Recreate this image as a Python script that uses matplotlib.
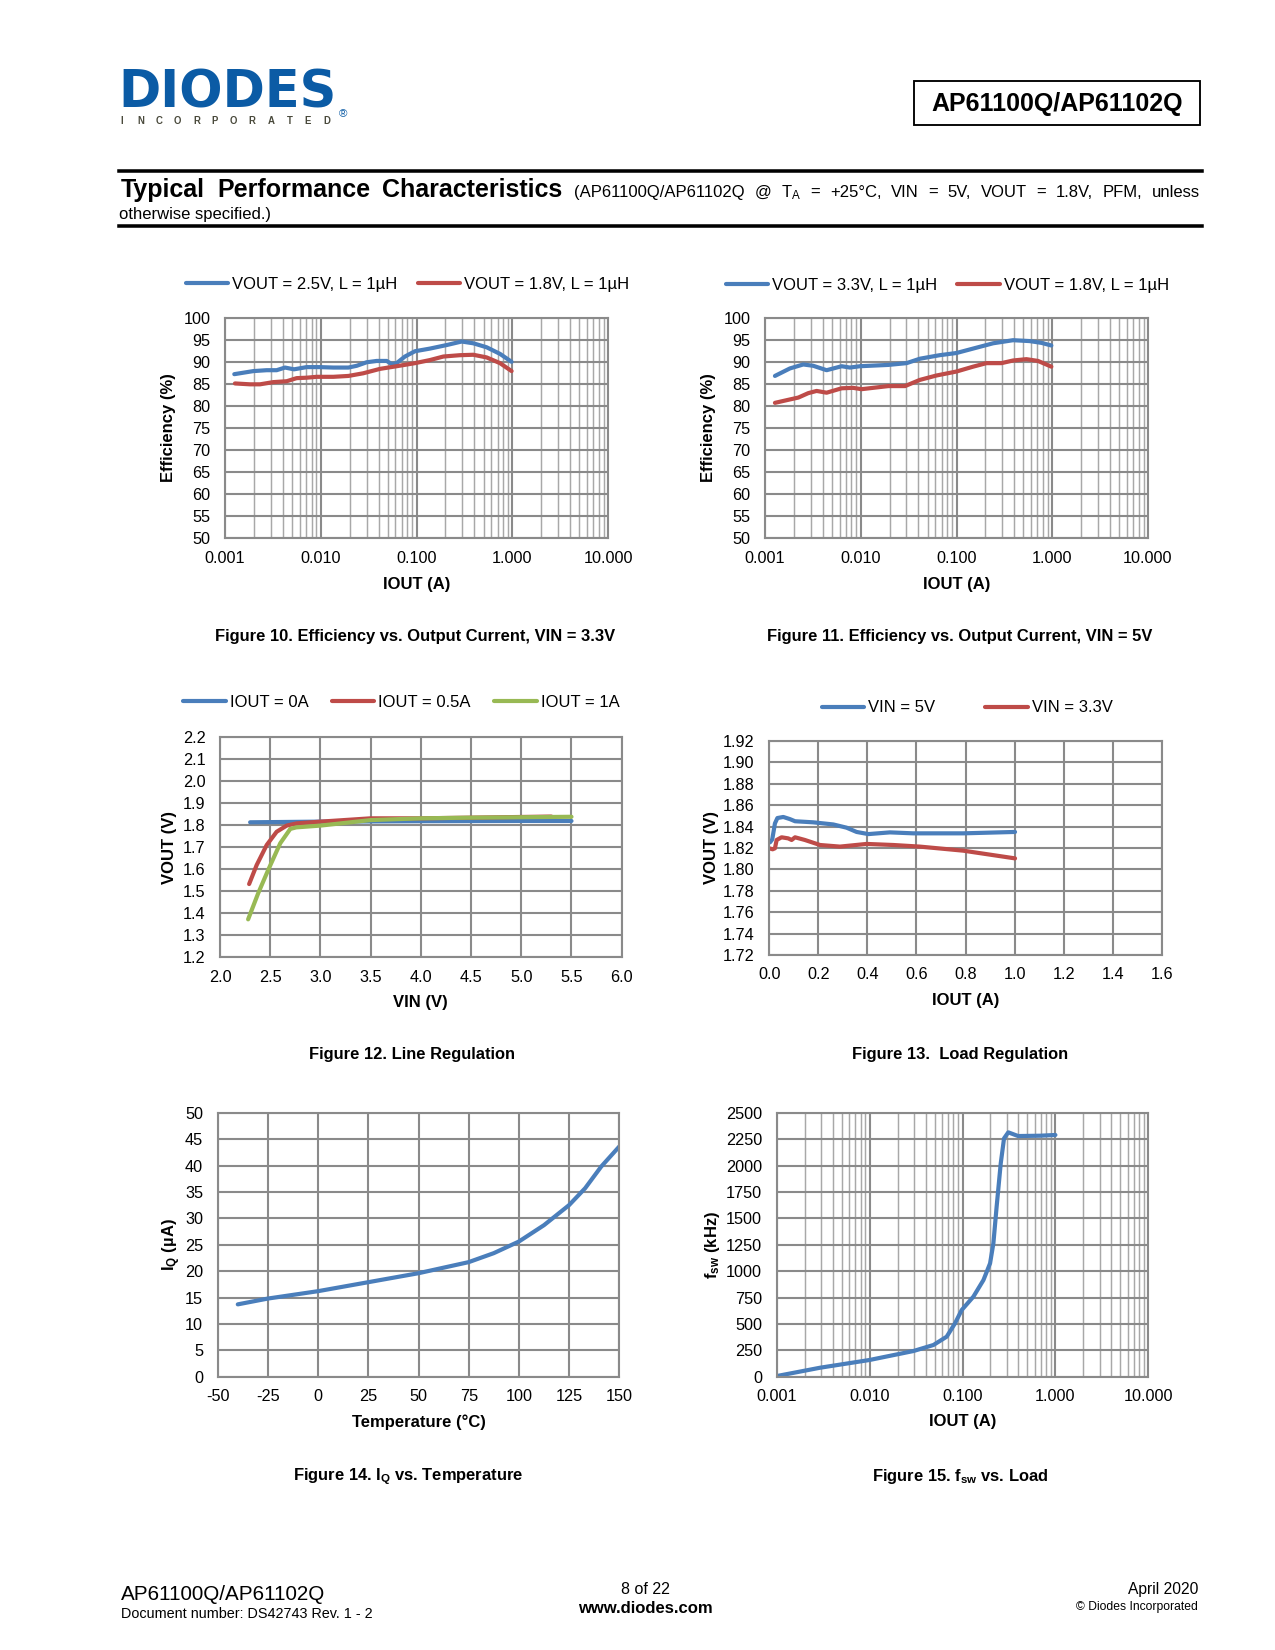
import matplotlib
matplotlib.use("Agg")
import matplotlib.pyplot as plt
from matplotlib.lines import Line2D
from matplotlib.patches import Rectangle
from matplotlib.ticker import FixedLocator, LogLocator, NullFormatter, FixedFormatter

plt.rcParams['font.family'] = ['Liberation Sans', 'DejaVu Sans']
plt.rcParams['mathtext.fontset'] = 'custom'
plt.rcParams['mathtext.rm'] = 'Liberation Sans'
plt.rcParams['mathtext.bf'] = 'Liberation Sans:bold'
plt.rcParams['mathtext.it'] = 'Liberation Sans:italic'
plt.rcParams['axes.unicode_minus'] = False

# ---------------- data ----------------
# Figure 10: efficiency vs IOUT, VIN = 3.3V
eff33_iout_25 = [0.00125, 0.00198, 0.00272, 0.00346, 0.00423, 0.00525, 0.00711, 0.0098, 0.0135, 0.0194,
                 0.0237, 0.0301, 0.0383, 0.0487, 0.0548, 0.0618, 0.0755, 0.0961, 0.1377, 0.2056,
                 0.295, 0.390, 0.537, 0.741, 0.979]
eff33_vout25 = [87.2, 87.9, 88.1, 88.1, 88.7, 88.3, 88.8, 88.8, 88.7, 88.7,
                89.1, 89.9, 90.2, 90.2, 89.5, 89.7, 91.2, 92.4, 93.0, 93.8,
                94.6, 94.2, 93.3, 91.8, 90.0]
eff33_iout_18 = [0.00127, 0.00182, 0.00232, 0.00319, 0.0044, 0.00559, 0.00711, 0.00904, 0.0135, 0.0194,
                 0.0277, 0.0414, 0.0618, 0.0961, 0.1377, 0.190, 0.282, 0.390, 0.537, 0.741, 0.979]
eff33_vout18 = [85.1, 84.9, 84.9, 85.4, 85.6, 86.3, 86.4, 86.6, 86.6, 86.8,
                87.4, 88.4, 89.0, 89.7, 90.4, 91.2, 91.5, 91.6, 91.0, 89.7, 87.9]

# Figure 11: efficiency vs IOUT, VIN = 5V
eff5_iout_33 = [0.00127, 0.00182, 0.00251, 0.00319, 0.0044, 0.00632, 0.0077, 0.0098, 0.0194, 0.0301,
                0.0414, 0.0667, 0.100, 0.149, 0.241, 0.390, 0.58, 0.77, 0.979]
eff5_vout33 = [86.8, 88.5, 89.4, 89.1, 88.1, 89.0, 88.7, 89.0, 89.3, 89.7,
               90.7, 91.5, 92.0, 93.0, 94.2, 94.9, 94.7, 94.3, 93.7]
eff5_iout_18 = [0.00127, 0.00168, 0.00223, 0.00283, 0.00346, 0.0044, 0.00632, 0.0083, 0.0102, 0.0194,
                0.029, 0.0414, 0.0618, 0.100, 0.149, 0.2056, 0.295, 0.390, 0.537, 0.71, 0.979]
eff5_vout18 = [80.7, 81.3, 81.9, 82.9, 83.4, 83.0, 84.0, 84.1, 83.8, 84.5,
               84.5, 85.9, 86.9, 87.8, 88.9, 89.7, 89.7, 90.3, 90.6, 90.2, 88.9]

# Figure 12: line regulation
line_vin_0a = [2.3, 3.0, 4.0, 5.0, 5.5]
line_vout_0a = [1.812, 1.815, 1.817, 1.818, 1.818]
line_vin_05a = [2.29, 2.365, 2.465, 2.564, 2.664, 2.763, 3.0, 3.5, 4.0, 4.5, 5.3]
line_vout_05a = [1.532, 1.618, 1.709, 1.769, 1.797, 1.807, 1.815, 1.830, 1.830, 1.833, 1.838]
line_vin_1a = [2.28, 2.38, 2.48, 2.60, 2.70, 2.76, 3.0, 3.5, 4.0, 4.5, 5.5]
line_vout_1a = [1.372, 1.490, 1.596, 1.717, 1.782, 1.789, 1.797, 1.822, 1.830, 1.833, 1.837]

# Figure 13: load regulation
load_iout_5v = [0.003, 0.012, 0.023, 0.033, 0.057, 0.084, 0.105, 0.179, 0.261, 0.315,
                0.356, 0.404, 0.492, 0.587, 0.791, 1.002]
load_vout_5v = [1.8253, 1.828, 1.843, 1.848, 1.849, 1.847, 1.845, 1.844, 1.842, 1.839,
                1.835, 1.833, 1.8346, 1.8337, 1.8337, 1.835]
load_iout_33v = [0.0, 0.0136, 0.023, 0.030, 0.050, 0.077, 0.091, 0.105, 0.145, 0.207,
                 0.288, 0.397, 0.506, 0.614, 0.791, 1.002]
load_vout_33v = [1.8197, 1.8188, 1.8197, 1.8275, 1.830, 1.829, 1.8275, 1.830, 1.8275, 1.8228,
                 1.8213, 1.8238, 1.8228, 1.8213, 1.8175, 1.8103]

# Figure 14: IQ vs temperature
temp_c = [-40, -25, 0, 25, 50, 75, 87.5, 100, 112.5, 125, 133, 141, 150]
iq_ua = [13.7, 14.8, 16.2, 17.9, 19.6, 21.7, 23.4, 25.6, 28.7, 32.5, 35.7, 39.8, 43.6]

# Figure 15: fsw vs load
fsw_iout = [0.001, 0.00293, 0.00995, 0.0296, 0.0486, 0.0676, 0.083, 0.098, 0.131, 0.168,
            0.198, 0.215, 0.233, 0.258, 0.280, 0.311, 0.397, 0.683, 1.0]
fsw_khz = [6, 85, 158, 243, 300, 379, 505, 631, 758, 915,
           1073, 1263, 1610, 2020, 2257, 2314, 2279, 2282, 2289]

# tick labels
log_ticks = [0.001, 0.01, 0.1, 1, 10]
log_tick_labels = ["0.001", "0.010", "0.100", "1.000", "10.000"]
eff_ticks = [50, 55, 60, 65, 70, 75, 80, 85, 90, 95, 100]
line_xticks = [2.0, 2.5, 3.0, 3.5, 4.0, 4.5, 5.0, 5.5, 6.0]
line_yticks = [1.2, 1.3, 1.4, 1.5, 1.6, 1.7, 1.8, 1.9, 2.0, 2.1, 2.2]
load_xticks = [0.0, 0.2, 0.4, 0.6, 0.8, 1.0, 1.2, 1.4, 1.6]
load_yticks = [1.72, 1.74, 1.76, 1.78, 1.80, 1.82, 1.84, 1.86, 1.88, 1.90, 1.92]
temp_ticks = [-50, -25, 0, 25, 50, 75, 100, 125, 150]
iq_ticks = [0, 5, 10, 15, 20, 25, 30, 35, 40, 45, 50]
fsw_ticks = [0, 250, 500, 750, 1000, 1250, 1500, 1750, 2000, 2250, 2500]

BLUE = '#4A7EBB'
RED = '#BE4B48'
GREEN = '#98B954'
GRID = '#8a8a8a'
MINOR = '#a8a8a8'
LW = 2.0
FS = 7.8

W, H = 1275, 1650
fig = plt.figure(figsize=(W / 150, H / 150), dpi=150)


def add_ax(l, r, t, b):
    return fig.add_axes([l / W, 1 - b / H, (r - l) / W, (b - t) / H])


def ftext(x, y, s, **kw):
    return fig.text(x / W, 1 - y / H, s, **kw)


def style(ax):
    ax.set_axisbelow(True)
    for sp in ax.spines.values():
        sp.set_color(GRID)
        sp.set_linewidth(1.0)
    ax.tick_params(which='both', length=0, labelsize=FS, colors='black')
    ax.tick_params(axis='y', pad=7)
    ax.tick_params(axis='x', pad=6)
    ax.grid(which='major', color=GRID, lw=1.0)


def log_axis(ax):
    ax.set_xscale('log')
    ax.set_xlim(0.001, 10)
    ax.xaxis.set_major_locator(FixedLocator(log_ticks))
    ax.xaxis.set_major_formatter(FixedFormatter(log_tick_labels))
    ax.xaxis.set_minor_locator(LogLocator(base=10, subs=range(2, 10), numticks=20))
    ax.xaxis.set_minor_formatter(NullFormatter())
    ax.grid(which='minor', axis='x', color=MINOR, lw=0.7)


def plot(ax, x, y, c):
    ax.plot(x, y, color=c, lw=LW, solid_capstyle='round', solid_joinstyle='round', clip_on=True)


def legend(ax, handles_labels, x, y, colsp):
    hs = [Line2D([], [], color=c, lw=LW, solid_capstyle='round') for c, _ in handles_labels]
    ls = [l for _, l in handles_labels]
    ax.legend(hs, ls, loc='center left', bbox_to_anchor=(x / W, 1 - y / H),
              bbox_transform=fig.transFigure, ncol=len(hs), frameon=False,
              borderpad=0, borderaxespad=0, handlelength=2.55, handletextpad=0.25,
              columnspacing=colsp, prop={'size': 8})


lab = dict(fontsize=8, fontweight='bold')

# ---- Figure 10 ----
ax = add_ax(225, 608.3, 317.7, 538.3)
style(ax)
log_axis(ax)
ax.set_ylim(50, 100)
ax.set_yticks(eff_ticks)
plot(ax, eff33_iout_25, eff33_vout25, BLUE)
plot(ax, eff33_iout_18, eff33_vout18, RED)
ax.set_xlabel('IOUT (A)', **lab)
ax.set_ylabel('Efficiency (%)', **lab)
ax.xaxis.set_label_coords(0.5, -0.176)
ax.yaxis.set_label_coords(-0.127, 0.5)
legend(ax, [(BLUE, 'VOUT = 2.5V, L = 1µH'), (RED, 'VOUT = 1.8V, L = 1µH')], 185.7, 284.3, 1.2)

# ---- Figure 11 ----
ax = add_ax(765, 1148, 317.7, 538.3)
style(ax)
log_axis(ax)
ax.set_ylim(50, 100)
ax.set_yticks(eff_ticks)
plot(ax, eff5_iout_33, eff5_vout33, BLUE)
plot(ax, eff5_iout_18, eff5_vout18, RED)
ax.set_xlabel('IOUT (A)', **lab)
ax.set_ylabel('Efficiency (%)', **lab)
ax.xaxis.set_label_coords(0.5, -0.176)
ax.yaxis.set_label_coords(-0.127, 0.5)
legend(ax, [(BLUE, 'VOUT = 3.3V, L = 1µH'), (RED, 'VOUT = 1.8V, L = 1µH')], 725.7, 285.7, 1.2)

# ---- Figure 12 ----
ax = add_ax(220, 621.7, 736.7, 957.3)
style(ax)
ax.set_xlim(2.0, 6.0)
ax.set_ylim(1.2, 2.2)
ax.set_xticks(line_xticks)
ax.set_xticklabels([f"{v:.1f}" for v in line_xticks])
ax.set_yticks(line_yticks)
ax.set_yticklabels([f"{v:.1f}" for v in line_yticks])
plot(ax, line_vin_0a, line_vout_0a, BLUE)
plot(ax, line_vin_05a, line_vout_05a, RED)
plot(ax, line_vin_1a, line_vout_1a, GREEN)
ax.set_xlabel('VIN (V)', **lab)
ax.set_ylabel('VOUT (V)', **lab)
ax.xaxis.set_label_coords(0.5, -0.173)
ax.yaxis.set_label_coords(-0.108, 0.5)
legend(ax, [(BLUE, 'IOUT = 0A'), (RED, 'IOUT = 0.5A'), (GREEN, 'IOUT = 1A')], 183, 702.7, 1.4)

# ---- Figure 13 ----
ax = add_ax(769.3, 1161.7, 741, 955)
style(ax)
ax.set_xlim(0, 1.6)
ax.set_ylim(1.72, 1.92)
ax.set_xticks(load_xticks)
ax.set_xticklabels([f"{v:.1f}" for v in load_xticks])
ax.set_yticks(load_yticks)
ax.set_yticklabels([f"{v:.2f}" for v in load_yticks])
plot(ax, load_iout_5v, load_vout_5v, BLUE)
plot(ax, load_iout_33v, load_vout_33v, RED)
ax.set_xlabel('IOUT (A)', **lab)
ax.set_ylabel('VOUT (V)', **lab)
ax.xaxis.set_label_coords(0.5, -0.176)
ax.yaxis.set_label_coords(-0.128, 0.5)
legend(ax, [(BLUE, 'VIN = 5V'), (RED, 'VIN = 3.3V')], 821.7, 708, 3.0)

# ---- Figure 14 ----
ax = add_ax(217.7, 619.3, 1112.7, 1376.7)
style(ax)
ax.set_xlim(-50, 150)
ax.set_ylim(0, 50)
ax.set_xticks(temp_ticks)
ax.set_yticks(iq_ticks)
plot(ax, temp_c, iq_ua, BLUE)
ax.set_xlabel('Temperature (°C)', **lab)
ax.set_ylabel(r'I$_\mathbf{Q}$ (µA)', **lab)
ax.xaxis.set_label_coords(0.5, -0.143)
ax.yaxis.set_label_coords(-0.086, 0.5)

# ---- Figure 15 ----
ax = add_ax(776.7, 1148.3, 1112.7, 1376.7)
style(ax)
log_axis(ax)
ax.set_ylim(0, 2500)
ax.set_yticks(fsw_ticks)
plot(ax, fsw_iout, fsw_khz, BLUE)
ax.set_xlabel('IOUT (A)', **lab)
ax.set_ylabel(r'f$_\mathbf{sw}$ (kHz)', **lab)
ax.xaxis.set_label_coords(0.5, -0.143)
ax.yaxis.set_label_coords(-0.148, 0.5)

# ---- captions ----
cap = dict(fontsize=7.9, fontweight='bold', ha='center', va='baseline')
ftext(415, 640.5, 'Figure 10. Efficiency vs. Output Current, VIN = 3.3V', **cap)
ftext(960, 640.5, 'Figure 11. Efficiency vs. Output Current, VIN = 5V', **cap)
ftext(412, 1059.5, 'Figure 12. Line Regulation', **cap)
ftext(960, 1059.5, 'Figure 13.  Load Regulation', **cap)
ftext(408, 1480.5, r'Figure 14. I$_\mathbf{Q}$ vs. Temperature', **cap)
ftext(960, 1480.5, r'Figure 15. f$_\mathbf{sw}$ vs. Load', **cap)

# ---- header ----
ftext(118, 108, 'DIODES', fontsize=24.5, fontweight='heavy', family='DejaVu Sans',
      color='#0B5BA5', va='baseline', ha='left')
fig.add_artist(Line2D([120 / W, 238 / W], [1 - 88 / H, 1 - 88 / H], color='white', lw=1.2))
letters = list('INCORPORATED')
for i, ch in enumerate(letters):
    ftext(122 + i * 18.6, 124, ch, fontsize=4.6, fontweight='bold', color='#4a4a3c',
          ha='center', va='baseline')
ftext(343, 114, '®', fontsize=5.5, color='#0B5BA5', ha='center', va='center')

fig.add_artist(Rectangle((914 / W, 1 - 125 / H), (1200 - 914) / W, (125 - 81) / H,
                         transform=fig.transFigure, fill=False, ec='black', lw=0.9))
ftext(1057, 103.5, 'AP61100Q/AP61102Q', fontsize=12, fontweight='bold', ha='center', va='center')

fig.add_artist(Line2D([119 / W, 1202 / W], [1 - 170.5 / H, 1 - 170.5 / H], color='black', lw=1.7))
fig.add_artist(Line2D([119 / W, 1202 / W], [1 - 225.5 / H, 1 - 225.5 / H], color='black', lw=1.7))

# justified first header line
words = [("Typical", 12, 'bold'), ("Performance", 12, 'bold'), ("Characteristics", 12, 'bold'),
         ("(AP61100Q/AP61102Q", 8, 'normal'), ("@", 8, 'normal'), (r"T$_\mathregular{A}$", 8, 'normal'),
         ("=", 8, 'normal'), ("+25°C,", 8, 'normal'), ("VIN", 8, 'normal'), ("=", 8, 'normal'),
         ("5V,", 8, 'normal'), ("VOUT", 8, 'normal'), ("=", 8, 'normal'), ("1.8V,", 8, 'normal'),
         ("PFM,", 8, 'normal'), ("unless", 8, 'normal')]
renderer = fig.canvas.get_renderer()
arts = []
widths = []
spaces = []
for s, fs, fw in words:
    t = ftext(0, 197, s, fontsize=fs, fontweight=fw, va='baseline', ha='left')
    arts.append(t)
    widths.append(t.get_window_extent(renderer).width)
    spaces.append(0.278 * fs * 150 / 72)
x0, x1 = 121, 1200
ngaps = len(words) - 1
extra = (x1 - x0 - sum(widths) - sum(spaces[:-1])) / ngaps
x = x0
for t, w, sp in zip(arts, widths, spaces):
    t.set_x(x / W)
    x += w + sp + extra
ftext(119, 218.5, 'otherwise specified.)', fontsize=8, va='baseline', ha='left')

# ---- footer ----
ftext(121, 1600, 'AP61100Q/AP61102Q', fontsize=9.9, va='baseline', ha='left')
ftext(121, 1618, 'Document number: DS42743 Rev. 1 - 2', fontsize=6.9, va='baseline', ha='left')
ftext(645, 1594, '8 of 22', fontsize=7.7, va='baseline', ha='center')
ftext(645, 1613, 'www.diodes.com', fontsize=8, fontweight='bold', va='baseline', ha='center')
ftext(1198, 1594, 'April 2020', fontsize=7.5, va='baseline', ha='right')
ftext(1198, 1610, '© Diodes Incorporated', fontsize=5.8, va='baseline', ha='right')

fig.savefig('out.png', dpi=150)
